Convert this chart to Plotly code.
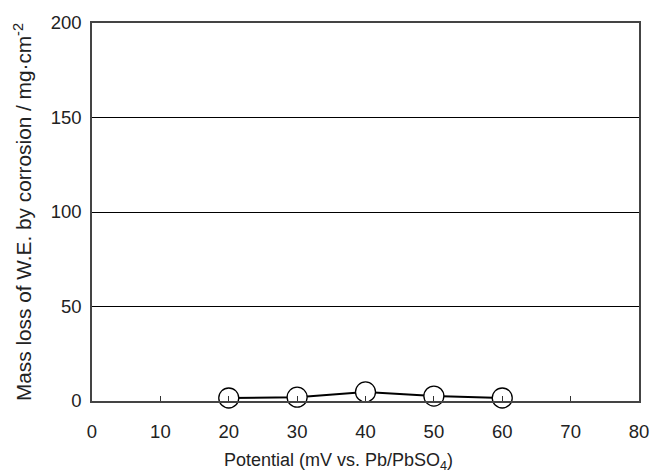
import plotly.graph_objects as go

potential = [20, 30, 40, 50, 60]
mass_loss = [1.6, 2.0, 4.8, 2.6, 1.6]
x_ticks = [0, 10, 20, 30, 40, 50, 60, 70, 80]
y_ticks = [0, 50, 100, 150, 200]

fig = go.Figure()
fig.add_trace(go.Scatter(
    x=potential, y=mass_loss, mode="lines+markers",
    line=dict(color="black", width=2),
    marker=dict(size=20, color="white", line=dict(color="black", width=1.3)),
    showlegend=False, cliponaxis=False,
))

font = dict(family="Liberation Sans, Arial, sans-serif", color="#222", size=18.5)
fig.update_layout(
    width=653, height=474,
    margin=dict(l=92, r=14, t=23, b=73, autoexpand=False),
    paper_bgcolor="white", plot_bgcolor="white",
    font=font,
    xaxis=dict(range=[0, 80], tickvals=x_ticks, ticks="inside", ticklen=5,
               tickcolor="#333", showgrid=False, zeroline=False, automargin=False,
               showline=True, linecolor="#444", linewidth=1.5, mirror=True,
               ticklabelstandoff=13,
               tickfont=dict(size=18.5)),
    yaxis=dict(range=[0, 200], tickvals=y_ticks, ticks="", showgrid=True,
               gridcolor="black", gridwidth=1, zeroline=False, automargin=False,
               showline=True, linecolor="#444", linewidth=1.5, mirror=True,
               ticklabelstandoff=5,
               title=dict(text="Mass loss of W.E. by corrosion / mg·cm<sup>-2</sup>",
                          standoff=13, font=dict(size=20.8)),
               tickfont=dict(size=18.5)),
    annotations=[dict(text="Potential (mV vs. Pb/PbSO<sub>4</sub>)",
                      xref="paper", yref="paper", x=0.45, y=-0.161,
                      xanchor="center", yanchor="middle", showarrow=False,
                      font=dict(size=18))],
)

fig.write_html("out.html", config={"displayModeBar": False},
               post_script="document.body.style.margin='0';document.body.style.overflow='hidden';")
